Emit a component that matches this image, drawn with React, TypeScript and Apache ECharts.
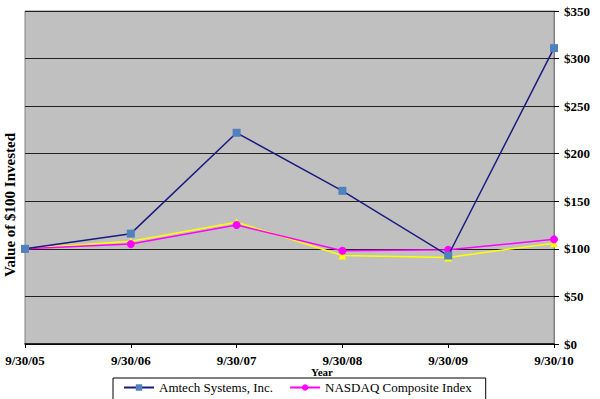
import React, { useEffect, useRef } from "react";
import * as echarts from "echarts";

const categories = ["9/30/05", "9/30/06", "9/30/07", "9/30/08", "9/30/09", "9/30/10"];
const amtech = [100, 116, 222, 161, 93, 311];
const nasdaq = [100, 105, 125, 98, 99, 110];
const peerIndex = [100, 108, 128, 93, 91, 106];
const yTicks = [0, 50, 100, 150, 200, 250, 300, 350];

export default function App() {
  const ref = useRef<HTMLDivElement>(null);
  useEffect(() => {
    if (!ref.current) return;
    const chart = echarts.init(ref.current, undefined, { renderer: "svg" });
    const serif = "'Liberation Serif', 'Times New Roman', serif";
    chart.setOption({
      animation: false,
      backgroundColor: "#ffffff",
      textStyle: { fontFamily: serif },
      grid: {
        left: 25,
        right: 46,
        top: 11,
        bottom: 55,
        show: true,
        backgroundColor: "#c0c0c0",
        borderColor: "#808080",
        borderWidth: 1,
      },
      xAxis: {
        type: "category",
        data: categories,
        boundaryGap: false,
        axisLine: { show: true, lineStyle: { color: "#000", width: 1.5 } },
        axisTick: { show: true, alignWithLabel: true, length: 4, lineStyle: { color: "#000" } },
        axisLabel: { fontFamily: serif, fontWeight: "bold", fontSize: 13, color: "#000", margin: 10 },
        splitLine: { show: false },
      },
      yAxis: {
        type: "value",
        position: "right",
        min: 0,
        max: yTicks[yTicks.length - 1],
        interval: 50,
        axisLine: { show: true, lineStyle: { color: "#808080" } },
        axisTick: { show: true, length: 5, lineStyle: { color: "#000" } },
        axisLabel: {
          fontFamily: serif,
          fontWeight: "bold",
          fontSize: 13,
          color: "#000",
          margin: 10,
          formatter: (v: number) => "$" + v,
        },
        splitLine: { show: true, lineStyle: { color: "#222", width: 1 } },
      },
      legend: {
        data: ["Amtech Systems, Inc.", "NASDAQ Composite Index"],
        left: 113,
        top: 378,
        width: 367,
        itemWidth: 30,
        itemHeight: 8,
        itemGap: 16,
        padding: [3, 14, 20, 10],
        borderColor: "#000",
        borderWidth: 1,
        backgroundColor: "#fff",
        textStyle: { fontFamily: serif, fontSize: 13, color: "#000" },
        z: 100,
      },
      graphic: [
        {
          type: "text",
          x: 10,
          y: 205,
          rotation: Math.PI / 2,
          style: {
            text: "Value of $100 Invested",
            fontFamily: serif,
            fontWeight: "bold",
            fontSize: 15,
            fill: "#000",
            align: "center",
            verticalAlign: "middle",
          },
        },
        {
          type: "text",
          x: 322,
          y: 366,
          z: 1,
          style: {
            text: "Year",
            fontFamily: serif,
            fontWeight: "bold",
            fontSize: 11,
            fill: "#000",
            align: "center",
            verticalAlign: "top",
          },
        },
      ],
      series: [
        {
          name: "Peer Index",
          type: "line",
          data: peerIndex,
          symbol: "triangle",
          symbolSize: 8,
          lineStyle: { color: "#ffff00", width: 1.5 },
          itemStyle: { color: "#ffff00" },
          z: 2,
        },
        {
          name: "NASDAQ Composite Index",
          type: "line",
          data: nasdaq,
          symbol: "circle",
          symbolSize: 8,
          lineStyle: { color: "#ff00ff", width: 1.5 },
          itemStyle: { color: "#ff00ff" },
          z: 3,
        },
        {
          name: "Amtech Systems, Inc.",
          type: "line",
          data: amtech,
          symbol: "rect",
          symbolSize: 8,
          lineStyle: { color: "#1a1a80", width: 1.5 },
          itemStyle: { color: "#4f81bd" },
          z: 4,
        },
      ],
    });
    return () => chart.dispose();
  }, []);
  return <div ref={ref} style={{ width: 600, height: 399, position: "absolute", left: 0, top: 0 }} />;
}
